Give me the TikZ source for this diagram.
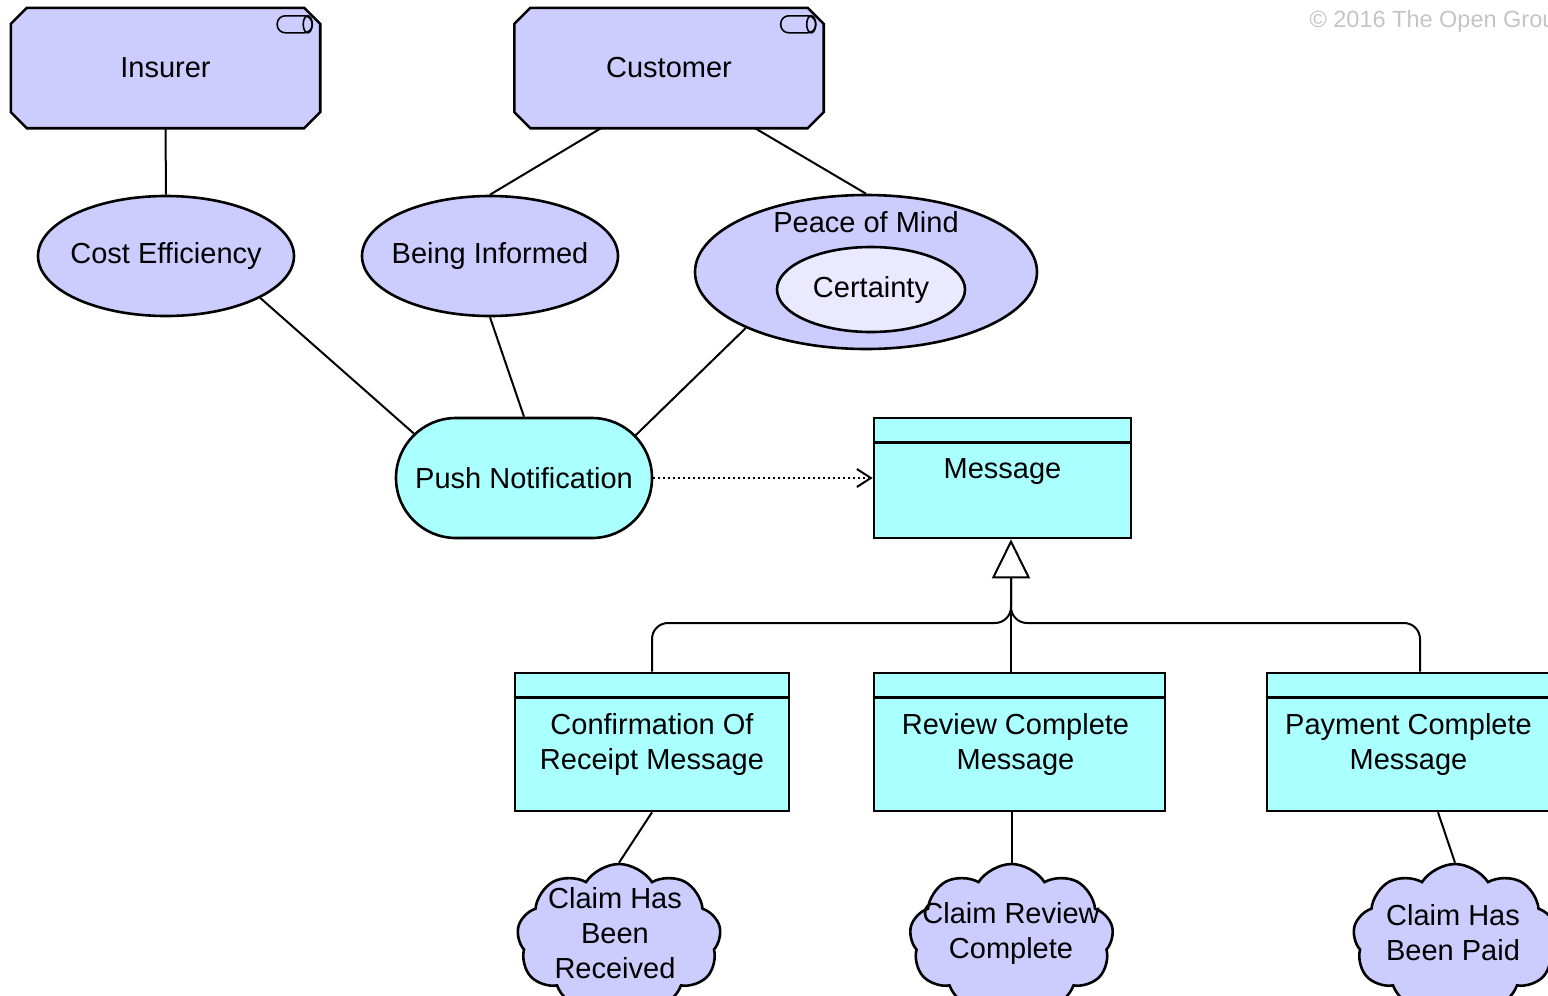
\documentclass[tikz,border=0pt]{standalone}
\usepackage{fontspec}
\setmainfont{Liberation Sans}
\usetikzlibrary{shapes.misc,shapes.geometric,shapes.symbols,arrows.meta,calc,backgrounds}
\definecolor{lav}{HTML}{CCCCFF}
\definecolor{lavlight}{HTML}{E9E9FF}
\definecolor{cyanbox}{HTML}{AAFFFF}
\definecolor{copygray}{HTML}{C4C4C4}
\newcommand{\stkframe}[1]{%
  \begin{scope}[on background layer]
  \draw[base,fill=lav] ($(#1.north west)+(16,0)$) -- ($(#1.north east)+(-16,0)$) -- ($(#1.north east)+(0,16)$) -- ($(#1.south east)+(0,-16)$) -- ($(#1.south east)+(-16,0)$) -- ($(#1.south west)+(16,0)$) -- ($(#1.south west)+(0,-16)$) -- ($(#1.north west)+(0,16)$) -- cycle;
  \end{scope}
  \draw[line width=1.6pt,rounded corners=8pt] ($(#1.north east)+(-43,8)$) rectangle ($(#1.north east)+(-8,25)$);
  \draw[line width=1.6pt] ($(#1.north east)+(-12.5,16.5)$) ellipse [x radius=4.5pt, y radius=8.5pt];
}
\newcommand{\zw}[1]{\makebox[0pt][c]{#1}}
\begin{document}
\begin{tikzpicture}[x=1pt,y=-1pt,
  every node/.style={font=\fontsize{29}{35}\selectfont},
  base/.style={draw=black,line width=2.6pt},
  stakebox/.style={rectangle,minimum width=309pt,minimum height=120pt,inner sep=0pt},
  goalell/.style={base,ellipse,fill=lav,minimum width=256pt,minimum height=120pt,inner sep=0pt},
  pushbox/.style={base,rounded rectangle,fill=cyanbox,minimum width=256pt,minimum height=120pt,inner sep=0pt},
  objbox/.style={base,rectangle,fill=cyanbox,inner sep=0pt},
  cloudbox/.style={base,cloud,cloud puffs=9,cloud puff arc=115,fill=lav,minimum width=204pt,minimum height=150pt,inner sep=0pt},
  conn/.style={draw=black,line width=2pt},
  txt/.style={align=center,inner sep=0pt}
]
\useasboundingbox (0,0) rectangle (1548,996);
\clip (0,0) rectangle (1548,996);

% copyright
\node[anchor=base west,text=copygray,font=\fontsize{23.5}{28}\selectfont] (copy) at (1306,27) {© 2016 The Open Group};

% stakeholders
\node[stakebox] (ins) at (165.5,68) {Insurer};
\stkframe{ins}
\node[stakebox] (cust) at (669,68) {Customer};
\stkframe{cust}

% goals
\node[goalell] (cost) at (166,256) {\zw{Cost Efficiency}};
\node[goalell] (inf) at (490,256) {\zw{Being Informed}};
\node[base,ellipse,fill=lav,minimum width=342pt,minimum height=154pt,inner sep=0pt] (pom) at (866,272) {};
\node[txt] (pomt) at (866,222) {Peace of Mind};
\node[base,ellipse,fill=lavlight,minimum width=188pt,minimum height=85pt,inner sep=0pt] (cert) at (871,289.5) {\zw{Certainty}};

% push notification
\node[pushbox] (push) at (524,478) {\zw{Push Notification}};

% message objects
\node[objbox,minimum width=257pt,minimum height=120pt] (msg) at (1002.5,478) {};
\draw[base] ($(msg.north west)+(0,26)$) -- ($(msg.north east)+(0,26)$);
\node[txt] (msgt) at ($(msg.north)+(0,55)$) {Message};

\node[objbox,minimum width=274pt,minimum height=138pt] (conf) at (652,742) {};
\draw[base] ($(conf.north west)+(0,26)$) -- ($(conf.north east)+(0,26)$);
\node[txt] (conft) at ($(conf.north)+(0,73)$) {Confirmation Of\\Receipt Message};

\node[objbox,minimum width=291pt,minimum height=138pt] (rev) at (1019.5,742) {};
\draw[base] ($(rev.north west)+(0,26)$) -- ($(rev.north east)+(0,26)$);
\node[txt] (revt) at ($(rev.north)+(-4,73)$) {Review Complete\\Message};

\node[objbox,minimum width=283pt,minimum height=138pt] (pay) at (1408.5,742) {};
\draw[base] ($(pay.north west)+(0,26)$) -- ($(pay.north east)+(0,26)$);
\node[txt] (payt) at ($(pay.north)+(0,73)$) {Payment Complete\\Message};

% events (clouds)
\node[cloudbox] (rec) at (619,939) {};
\node[txt] (rect) at (615,933) {Claim Has\\Been\\Received};
\node[cloudbox] (rcl) at (1011.5,939) {};
\node[txt] (rclt) at (1011,933) {Claim Review\\Complete};
\node[cloudbox] (paid) at (1455,939) {};
\node[txt] (paidt) at (1453,933) {Claim Has\\Been Paid};

% influence / association connectors
\draw[conn] (ins) -- (cost);
\draw[conn] ($(cust.south)+(-68,0)$) -- (inf.north);
\draw[conn] ($(cust.south)+(86,0)$) -- (pom.north);
\draw[conn] (cost.-24.5) -- (push.158.7);
\draw[conn] (inf.south) -- (push.north);
\draw[conn] (pom.-155.2) -- (push.21);

% access (dotted)
\draw[line width=2pt,dash pattern=on 2pt off 3pt,-{Straight Barb[length=14pt,width=18pt,line width=2pt]}] (push.east) -- (msg.west);

% specialization
\coordinate (gj) at (1011,623);
\coordinate (gb) at (1011,577);
\draw[conn,-{Triangle[open,length=39pt,width=38pt]}] (rev.north -| gj) -- (msg.south -| gj);
\draw[conn,rounded corners=16pt] (conf.north) |- (gj) -- (gb);
\draw[conn,rounded corners=16pt] ($(pay.north)+(11.5,0)$) |- (gj) -- (gb);

% event associations
\draw[conn] (conf.south) -- (rec.north);
\draw[conn] (rev.south -| rcl.north) -- (rcl.north);
\draw[conn] ($(pay.south)+(29.5,0)$) -- (paid.north);
\end{tikzpicture}
\end{document}
